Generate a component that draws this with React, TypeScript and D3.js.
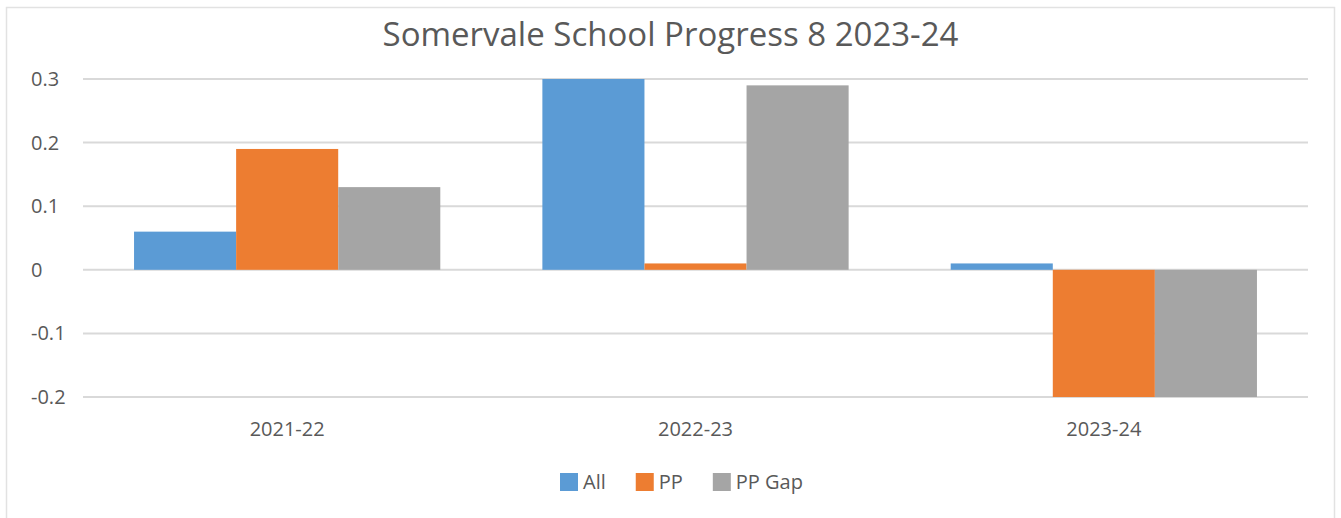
import { useEffect, useRef } from "react";
import * as d3 from "d3";

// Chart data
const categories = ["2021-22", "2022-23", "2023-24"];
const seriesNames = ["All", "PP", "PP Gap"];
const allValues = [0.06, 0.3, 0.01];
const ppValues = [0.19, 0.01, -0.2];
const ppGapValues = [0.13, 0.29, -0.2];
const yTickValues = [-0.2, -0.1, 0, 0.1, 0.2, 0.3];
const yTickLabels = ["-0.2", "-0.1", "0", "0.1", "0.2", "0.3"];

const colors = ["#5B9BD5", "#ED7D31", "#A5A5A5"];

function App() {
  const ref = useRef<SVGSVGElement | null>(null);

  useEffect(() => {
    const width = 1341;
    const height = 518;
    const font = "'Open Sans', sans-serif";
    const textColor = "#595959";

    const svg = d3.select(ref.current);
    svg.selectAll("*").remove();

    // chart frame
    svg
      .append("rect")
      .attr("x", 6.5)
      .attr("y", 7.5)
      .attr("width", 1328)
      .attr("height", 520)
      .attr("fill", "white")
      .attr("stroke", "#e2e2e2")
      .attr("stroke-width", 1.5);

    // title
    svg
      .append("text")
      .attr("x", width / 2)
      .attr("y", 46)
      .attr("text-anchor", "middle")
      .attr("font-family", font)
      .attr("font-size", 33)
      .attr("fill", textColor)
      .text("Somervale School Progress 8 2023-24");

    const x0 = d3
      .scaleBand()
      .domain(categories)
      .range([83, 1308])
      .paddingInner(0.25)
      .paddingOuter(0.125);

    const x1 = d3.scaleBand().domain(seriesNames).range([0, x0.bandwidth()]);

    const y = d3.scaleLinear().domain([-0.2, 0.3]).range([397, 79]);

    // gridlines
    svg
      .append("g")
      .selectAll("line")
      .data(yTickValues)
      .enter()
      .append("line")
      .attr("x1", 83)
      .attr("x2", 1308)
      .attr("y1", (d) => y(d))
      .attr("y2", (d) => y(d))
      .attr("stroke", "#d9d9d9")
      .attr("stroke-width", 2);

    // y tick labels
    svg
      .append("g")
      .selectAll("text")
      .data(yTickValues)
      .enter()
      .append("text")
      .attr("x", 31)
      .attr("y", (d) => y(d))
      .attr("dy", "0.35em")
      .attr("font-family", font)
      .attr("font-size", 20)
      .attr("fill", textColor)
      .text((d, i) => yTickLabels[i]);

    // bars
    const series = [allValues, ppValues, ppGapValues];
    const rows = categories.flatMap((c, ci) =>
      seriesNames.map((s, si) => ({ cat: c, name: s, value: series[si][ci], color: colors[si] }))
    );

    svg
      .append("g")
      .selectAll("rect")
      .data(rows)
      .enter()
      .append("rect")
      .attr("x", (d) => x0(d.cat)! + x1(d.name)!)
      .attr("width", x1.bandwidth())
      .attr("y", (d) => y(Math.max(0, d.value)))
      .attr("height", (d) => Math.abs(y(d.value) - y(0)))
      .attr("fill", (d) => d.color);

    // category labels
    svg
      .append("g")
      .selectAll("text")
      .data(categories)
      .enter()
      .append("text")
      .attr("x", (d) => x0(d)! + x0.bandwidth() / 2)
      .attr("y", 436)
      .attr("text-anchor", "middle")
      .attr("font-family", font)
      .attr("font-size", 20)
      .attr("fill", textColor)
      .text((d) => d);

    // legend
    const legend = svg.append("g");
    let lx = 560;
    seriesNames.forEach((name, i) => {
      legend
        .append("rect")
        .attr("x", lx)
        .attr("y", 473)
        .attr("width", 18)
        .attr("height", 18)
        .attr("fill", colors[i]);
      const t = legend
        .append("text")
        .attr("x", lx + 23)
        .attr("y", 482)
        .attr("dy", "0.35em")
        .attr("font-family", font)
        .attr("font-size", 20)
        .attr("fill", textColor)
        .text(name);
      const w = (t.node() as SVGTextElement).getComputedTextLength();
      lx += 23 + w + 30;
    });
  }, []);

  return (
    <svg
      ref={ref}
      width={1341}
      height={518}
      style={{ position: "absolute", left: 0, top: 0, background: "white" }}
    />
  );
}

export default App;
